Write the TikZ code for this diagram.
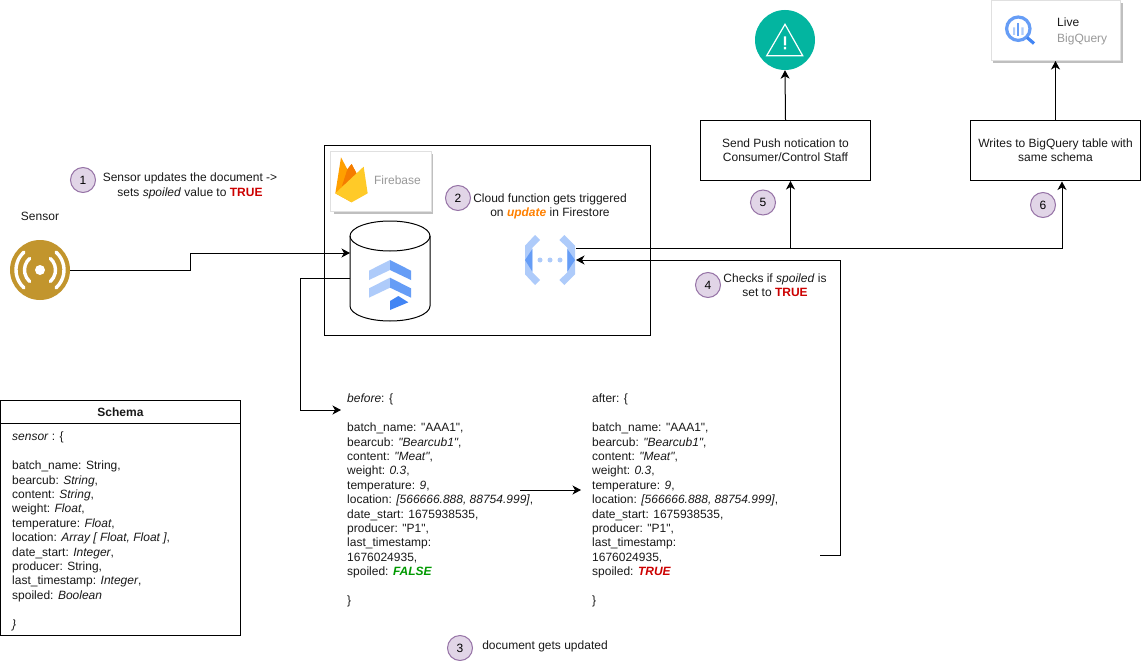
\documentclass[tikz,border=0pt]{standalone}
\usepackage{fontspec}
\setmainfont{Liberation Sans}[Ligatures=TeXOff]
\usetikzlibrary{arrows.meta,calc}
\definecolor{redtxt}{HTML}{CC0000}
\definecolor{greentxt}{HTML}{009900}
\definecolor{orangetxt}{HTML}{FF8000}
\definecolor{numfill}{HTML}{E1D5E7}
\definecolor{numline}{HTML}{9673A6}
\definecolor{gcpA}{HTML}{AECBFA}
\definecolor{gcpB}{HTML}{669DF6}
\definecolor{gcpC}{HTML}{4285F4}
\definecolor{sensorcol}{HTML}{C2952D}
\definecolor{alertcol}{HTML}{03B5A0}
\definecolor{fireA}{HTML}{FFA000}
\definecolor{fireB}{HTML}{F57C00}
\definecolor{fireC}{HTML}{FFCA28}
\newcommand{\tr}{\textcolor{redtxt}{\textbf{TRUE}}}
\tikzset{
  txt/.style={inner sep=0pt,font=\fontsize{12}{14.4}\selectfont,text=black!90,align=center},
  code/.style={txt,align=left,anchor=north west},
  edge/.style={draw=black,line width=1pt,-{Stealth[length=8.5pt,width=9pt,inset=2.5pt]}},
  plain/.style={draw=black,line width=1pt},
  box/.style={draw=black,line width=1pt,fill=white,txt,minimum width=170pt,minimum height=60pt},
  num/.style={circle,draw=numline,fill=numfill,line width=1pt,minimum size=25pt,inner sep=0pt,font=\fontsize{12}{14.4}\selectfont},
  card/.style={draw=black!12,fill=white,line width=1pt,inner sep=0pt},
  shadowbox/.style={fill=black!25,draw=none}
}
\begin{document}
\begin{tikzpicture}[x=1pt,y=-1pt]
\useasboundingbox (0,0) rectangle (1141,661);
% container
\node[draw=black,line width=1pt,minimum width=326pt,minimum height=190pt,inner sep=0pt] (frame) at (487.5,240.5) {};
% firebase card
\fill[shadowbox] (333.5,154) rectangle (433,213.5);
\node[card,minimum width=100.5pt,minimum height=60pt] (fbcard) at (381,181) {};
\begin{scope}[shift={(330,150)},scale=1/3]
\fill[fireA] (16,130) -- (33,22) -- (52,58) -- (65,42) -- (82,75) -- (65,157) -- cycle;
\fill[fireB] (36,108) -- (52,58) -- (65,95) -- cycle;
\fill[fireB] (52,58) -- (65,42) -- (82,75) -- (60,96) -- cycle;
\fill[fireC] (16,130) -- (101,50) -- (113,130) -- (65,157) -- cycle;
\end{scope}
\node[txt,text=black!40] (fbtxt) at (397.5,180.5) {Firebase};
% cylinder
\node[minimum width=80pt,minimum height=100pt,inner sep=0pt] (db) at (390,271) {};
\draw[plain,fill=white] (350,236) -- (350,306) arc[start angle=180,end angle=360,x radius=40pt,y radius=15pt] -- (430,236) arc[start angle=0,end angle=180,x radius=40pt,y radius=15pt] -- cycle;
\draw[plain] (350,236) arc[start angle=180,end angle=360,x radius=40pt,y radius=15pt];
\begin{scope}[shift={(345,215)},scale=1/3]
\fill[gcpA] (72,167) -- (135,135) -- (135,165) -- (72,195) -- cycle;
\fill[gcpB] (135,135) -- (198,167) -- (198,195) -- (135,165) -- cycle;
\fill[gcpA] (72,220) -- (135,188) -- (135,218) -- (72,248) -- cycle;
\fill[gcpB] (135,188) -- (198,220) -- (198,248) -- (135,218) -- cycle;
\fill[gcpC] (135,258) -- (160,243) -- (190,262) -- (135,285) -- cycle;
\end{scope}
% cloud function icon
\node[minimum width=51pt,minimum height=50pt,inner sep=0pt] (fn) at (550.5,260) {};
\begin{scope}[shift={(515,225)},scale=1/3]
\fill[gcpA] (60,30) -- (75,45) -- (52,68) -- (52,142) -- (75,165) -- (60,180) -- (30,148) -- (30,62) -- cycle;
\fill[gcpB] (52,72) -- (52,140) -- (30,105) -- cycle;
\fill[gcpA] (148,30) -- (133,45) -- (157,68) -- (157,142) -- (133,165) -- (148,180) -- (180,148) -- (180,62) -- cycle;
\fill[gcpB] (157,72) -- (157,140) -- (180,105) -- cycle;
\fill[gcpA] (75,105) circle[radius=7.5] (105,105) circle[radius=7.5] (135,105) circle[radius=7.5];
\end{scope}
% sensor
\node[circle,fill=sensorcol,minimum size=60pt,inner sep=0pt] (sensor) at (40,270) {};
\fill[white] (40,270) circle[radius=5pt];
\draw[white,line width=3.4pt,line cap=round] (40,270) ++(132:15.5pt) arc[start angle=132,end angle=228,radius=15.5pt];
\draw[white,line width=3.4pt,line cap=round] (40,270) ++(48:15.5pt) arc[start angle=48,end angle=-48,radius=15.5pt];
\draw[white,line width=3.4pt,line cap=round] (40,270) ++(132:24pt) arc[start angle=132,end angle=228,radius=24pt];
\draw[white,line width=3.4pt,line cap=round] (40,270) ++(48:24pt) arc[start angle=48,end angle=-48,radius=24pt];
\node[txt] (sensorlabel) at (40,216) {Sensor};
% alert
\node[circle,fill=alertcol,minimum size=60pt,inner sep=0pt] (alert) at (785,40) {};
\draw[white,line width=1.2pt,line join=miter] (785,24.3) -- (802.7,55.7) -- (766.7,55.7) -- cycle;
\fill[white] (783.8,36.5) rectangle (786.2,45.5) (783.8,47) rectangle (786.2,49.5);
% bigquery card
\fill[shadowbox] (993,3) rectangle (1122.5,63);
\node[card,minimum width=129pt,minimum height=60pt] (bqcard) at (1055.5,30.5) {};
\draw[gcpB,line width=3.2pt] (1018.3,28.7) circle[radius=11.7pt];
\draw[gcpC,line width=3.2pt] (1027,37.5) -- (1034,43.5);
\fill[gcpA] (1013,27.5) rectangle (1015.2,35) (1021.4,27.5) rectangle (1023.6,35);
\fill[gcpB] (1017.2,23.5) rectangle (1019.4,36);
\node[txt,anchor=west] (live) at (1057,22.5) {Live};
\node[txt,anchor=west,text=black!40] (bqtxt) at (1057,39) {BigQuery};
% boxes
\node[box] (push) at (785.5,150.5) {Send Push notication to\\Consumer/Control Staff};
\node[box] (bqw) at (1055.5,150.5) {Writes to BigQuery table with\\same schema};
% schema
\node[draw=black,line width=1pt,fill=white,minimum width=240pt,minimum height=235pt,inner sep=0pt] (schema) at (120.5,518) {};
\draw[plain] (schema.north west |- 0,423) -- (schema.north east |- 0,423);
\node[txt] (schematitle) at (120.5,412.5) {\textbf{Schema}};
\node[code] (schematext) at (12,432) {\textit{sensor} : \{\\~\\
batch\_name: String,\\
bearcub: \textit{String},\\
content: \textit{String},\\
weight: \textit{Float},\\
temperature: \textit{Float},\\
location: \textit{Array [ Float, Float ]},\\
date\_start: \textit{Integer},\\
producer: String,\\
last\_timestamp: \textit{Integer},\\
spoiled: \textit{Boolean}\\~\\
\textit{\}}};
% documents
\node[code] (before) at (347,394) {\textit{before}: \{\\~\\
batch\_name: "AAA1",\\
bearcub: \textit{"Bearcub1"},\\
content: \textit{"Meat"},\\
weight: \textit{0.3},\\
temperature: \textit{9},\\
location: \textit{[566666.888, 88754.999]},\\
date\_start: 1675938535,\\
producer: "P1",\\
last\_timestamp:\\
1676024935,\\
spoiled: \textcolor{greentxt}{\textbf{\textit{FALSE}}}\\~\\
\}};
\node[code] (after) at (592,394) {after: \{\\~\\
batch\_name: "AAA1",\\
bearcub: \textit{"Bearcub1"},\\
content: \textit{"Meat"},\\
weight: \textit{0.3},\\
temperature: \textit{9},\\
location: \textit{[566666.888, 88754.999]},\\
date\_start: 1675938535,\\
producer: "P1",\\
last\_timestamp:\\
1676024935,\\
spoiled: \textcolor{redtxt}{\textbf{\textit{TRUE}}}\\~\\
\}};
% numbered labels
\node[num] (n1) at (83,180) {1};
\node[txt] (t1) at (190,186) {Sensor updates the document ->\\sets \textit{spoiled} value to \tr};
\node[num] (n2) at (458,198) {2};
\node[txt] (t2) at (550,206.5) {Cloud function gets triggered\\on \textcolor{orangetxt}{\textbf{\textit{update}}} in Firestore};
\node[num] (n3) at (460,648) {3};
\node[txt] (t3) at (545,646.5) {document gets updated};
\node[num] (n4) at (708,285) {4};
\node[txt] (t4) at (775,285.5) {Checks if \textit{spoiled} is\\set to \tr};
\node[num] (n5) at (763,202.5) {5};
\node[num] (n6) at (1043,205) {6};
% connector ends
\coordinate (dbin) at (350,253);
\coordinate (dbout) at (350,278);
\coordinate (beforein) at (341,410);
\coordinate (beforeout) at (520,490);
\coordinate (afterin) at (581,490);
\coordinate (afterout) at (820,555);
\coordinate (fnout) at (576,248);
\coordinate (fnin) at (576,260);
\coordinate (pushin) at (790.5,181);
\coordinate (bqwin) at (1062,181.5);
% connectors
\draw[edge] (sensor.east) -- (190,270) -- (190,253) -- (dbin);
\draw[edge] (dbout) -- (300.5,278) -- (300.5,410) -- (beforein);
\draw[edge] (beforeout) -- (afterin);
\draw[edge] (afterout) -- (840,555) -- (840,260) -- (fnin);
\draw[edge] (fnout) -| (pushin);
\draw[edge] (fnout) -| (bqwin);
\draw[edge] (push.north) -- (alert.south);
\draw[edge] (bqw.north) -- (bqcard.south);
\end{tikzpicture}
\end{document}
